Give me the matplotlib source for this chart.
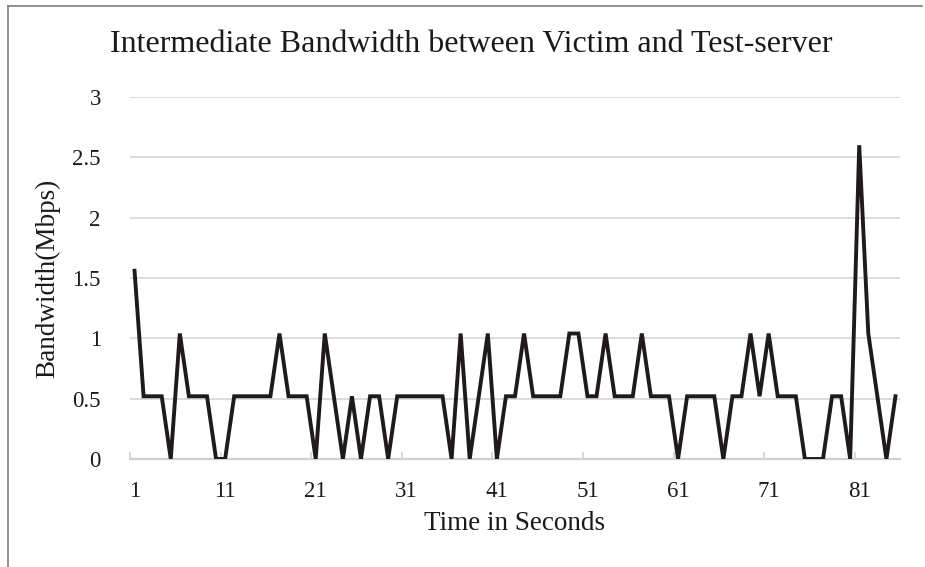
import numpy as np
import matplotlib.pyplot as plt
from matplotlib.lines import Line2D

plt.rcParams['font.family'] = ['Liberation Serif', 'DejaVu Serif']

# bandwidth samples, one per second
seconds = np.arange(1, 86)
bandwidth = [
    1.56, 0.52, 0.52, 0.52, 0, 1.04, 0.52, 0.52, 0.52, 0,
    0, 0.52, 0.52, 0.52, 0.52, 0.52, 1.04, 0.52, 0.52, 0.52,
    0, 1.04, 0.52, 0, 0.52, 0, 0.52, 0.52, 0, 0.52,
    0.52, 0.52, 0.52, 0.52, 0.52, 0, 1.04, 0, 0.52, 1.04,
    0, 0.52, 0.52, 1.04, 0.52, 0.52, 0.52, 0.52, 1.04, 1.04,
    0.52, 0.52, 1.04, 0.52, 0.52, 0.52, 1.04, 0.52, 0.52, 0.52,
    0, 0.52, 0.52, 0.52, 0.52, 0, 0.52, 0.52, 1.04, 0.52,
    1.04, 0.52, 0.52, 0.52, 0, 0, 0, 0.52, 0.52, 0,
    2.6, 1.04, 0.52, 0, 0.52,
]
xtick_labels = [str(v) for v in range(1, 82, 10)]
ytick_vals = [0, 0.5, 1, 1.5, 2, 2.5, 3]
ytick_labels = ['0', '0.5', '1', '1.5', '2', '2.5', '3']

fig = plt.figure(figsize=(9.25, 5.67), dpi=100)
ax = fig.add_axes([130/925, 1-459/567, 770/925, 362/567])

ax.plot(seconds, bandwidth, color='#1f1b1c', lw=2.8, solid_joinstyle='miter', zorder=3)

ax.set_xlim(0.5, 85.5)
ax.set_ylim(0, 3)
ax.set_yticks(ytick_vals)
ax.set_yticklabels(ytick_labels)
ax.set_xticks(range(1, 82, 10))
ax.set_xticklabels(xtick_labels)
ax.set_xticks(np.arange(0.5, 81, 10), minor=True)
ax.tick_params(axis='both', which='major', length=0, labelsize=16.5, colors='#1a1a1a')
ax.tick_params(axis='y', pad=21)
ax.tick_params(axis='x', pad=16)
ax.tick_params(axis='x', which='minor', length=5, direction='in', color='#d0d0d0', width=1.2)

ax.grid(axis='y', color='#d9d9d9', lw=1.3, zorder=0)
for side in ['top', 'right', 'left']:
    ax.spines[side].set_visible(False)
ax.spines['bottom'].set_color('#d0d0d0')
ax.spines['bottom'].set_linewidth(1.6)

ax.set_ylabel('Bandwidth(Mbps)', fontsize=19.5, color='#1a1a1a', labelpad=9)
ax.set_xlabel('Time in Seconds', fontsize=19.5, color='#1a1a1a', labelpad=6)
fig.text(471/925, 1-45/567, 'Intermediate Bandwidth between Victim and Test-server',
         fontsize=23, color='#1a1a1a', ha='center', va='center')

# chart border
fig.add_artist(Line2D([7.5/925, 7.5/925], [0, 1-6/567], color='#7f7f7f', lw=1.2))
fig.add_artist(Line2D([7.5/925, 922/925], [1-6/567, 1-6/567], color='#7f7f7f', lw=1.2))

fig.savefig('out.png', dpi=100)
